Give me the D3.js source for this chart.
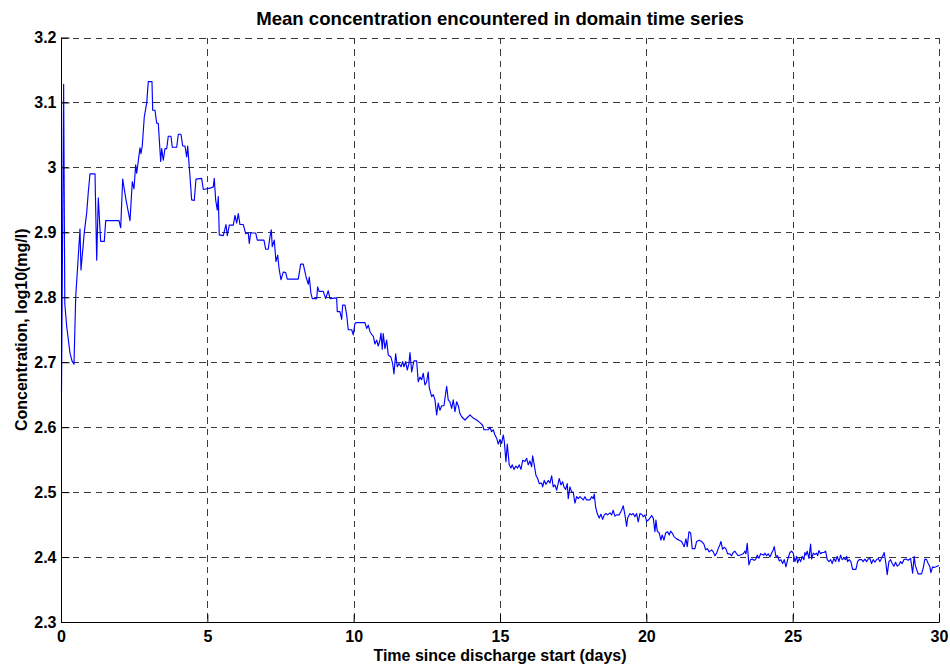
<!DOCTYPE html>
<html>
<head>
<meta charset="utf-8">
<script src="https://cdn.jsdelivr.net/npm/d3@7"></script>
<style>
  html, body { margin: 0; padding: 0; background: #fff; }
  svg { display: block; }
  text { font-family: "Liberation Sans", Arial, Helvetica, sans-serif; font-weight: bold; fill: #000; }
</style>
</head>
<body>
<svg id="chart" width="950" height="665"></svg>
<script>
// Time since discharge start (days)
const days = [
  0.017, 0.09, 0.13, 0.195, 0.307, 0.376, 0.444, 0.502, 0.649, 0.683,
  0.796, 0.878, 0.933, 0.991, 1.162, 1.220, 1.274, 1.356, 1.479, 1.527,
  1.982, 2.040, 2.108, 2.221, 2.357, 2.436, 2.494, 2.552, 2.586, 2.699,
  2.733, 2.778, 2.846, 2.928, 2.983, 3.109, 3.133, 3.212, 3.270, 3.324,
  3.406, 3.440, 3.495, 3.553, 3.611, 3.666, 3.758, 3.803, 3.953, 4.008,
  4.100, 4.158, 4.236, 4.294, 4.329, 4.407, 4.465, 4.554, 4.612, 4.807,
  4.862, 5.091, 5.203, 5.237, 5.285, 5.340, 5.374, 5.408, 5.545, 5.637,
  5.682, 5.750, 5.887, 5.945, 6.003, 6.057, 6.115, 6.228, 6.310, 6.399,
  6.433, 6.481, 6.652, 6.707, 6.935, 6.993, 7.082, 7.140, 7.185, 7.219,
  7.287, 7.345, 7.404, 7.448, 7.516, 7.595, 7.677, 7.731, 8.107, 8.189,
  8.278, 8.370, 8.449, 8.483, 8.541, 8.586, 8.736, 8.770, 8.815, 8.961,
  9.043, 9.132, 9.190, 9.419, 9.440, 9.532, 9.590, 9.624, 9.703, 9.761,
  9.815, 9.932, 9.986, 10.044, 10.102, 10.386, 10.444, 10.499, 10.557, 10.615,
  10.670, 10.728, 10.786, 10.840, 10.899, 10.933, 10.977, 11.011, 11.069, 11.127,
  11.182, 11.274, 11.332, 11.377, 11.435, 11.490, 11.548, 11.616, 11.674, 11.718,
  11.776, 11.831, 11.889, 11.924, 11.982, 12.060, 12.152, 12.207, 12.265, 12.323,
  12.378, 12.436, 12.494, 12.549, 12.583, 12.665, 12.720, 12.778, 12.836, 12.890,
  12.948, 13.006, 13.085, 13.177, 13.232, 13.290, 13.348, 13.403, 13.461, 13.519,
  13.574, 13.632, 13.690, 13.803, 13.915, 13.973, 14.086, 14.202, 14.315, 14.407,
  14.452, 14.598, 14.657, 14.715, 14.770, 14.828, 14.886, 14.940, 14.998, 15.056,
  15.111, 15.145, 15.203, 15.248, 15.316, 15.374, 15.419, 15.477, 15.545, 15.603,
  15.658, 15.716, 15.774, 15.853, 15.911, 15.965, 16.023, 16.081, 16.116, 16.170,
  16.228, 16.286, 16.341, 16.423, 16.457, 16.512, 16.570, 16.649, 16.707, 16.765,
  16.819, 16.877, 16.935, 16.990, 17.024, 17.082, 17.140, 17.185, 17.243, 17.298,
  17.332, 17.390, 17.448, 17.502, 17.561, 17.619, 17.674, 17.732, 17.844, 17.902,
  17.960, 18.073, 18.131, 18.186, 18.220, 18.268, 18.323, 18.391, 18.449, 18.507,
  18.562, 18.620, 18.678, 18.756, 18.814, 18.869, 18.927, 18.985, 19.074, 19.156,
  19.211, 19.269, 19.327, 19.361, 19.440, 19.498, 19.552, 19.610, 19.668, 19.723,
  19.781, 19.839, 19.894, 19.952, 20.010, 20.065, 20.123, 20.181, 20.236, 20.294,
  20.328, 20.373, 20.441, 20.499, 20.543, 20.601, 20.659, 20.728, 20.782, 20.830,
  20.885, 20.953, 21.035, 21.124, 21.206, 21.261, 21.295, 21.353, 21.398, 21.456,
  21.514, 21.568, 21.660, 21.719, 21.807, 21.889, 21.968, 22.026, 22.081, 22.149,
  22.231, 22.286, 22.344, 22.402, 22.456, 22.514, 22.549, 22.607, 22.661, 22.719,
  22.778, 22.856, 22.914, 22.969, 23.027, 23.085, 23.140, 23.256, 23.310, 23.368,
  23.403, 23.447, 23.505, 23.563, 23.618, 23.676, 23.734, 23.789, 23.847, 23.905,
  23.960, 24.018, 24.052, 24.110, 24.165, 24.223, 24.281, 24.335, 24.370, 24.428,
  24.486, 24.541, 24.599, 24.657, 24.712, 24.770, 24.828, 24.906, 24.964, 25.019,
  25.077, 25.135, 25.169, 25.224, 25.271, 25.326, 25.384, 25.418, 25.453, 25.497,
  25.555, 25.613, 25.648, 25.702, 25.760, 25.818, 25.853, 25.897, 25.955, 26.010,
  26.068, 26.126, 26.181, 26.239, 26.297, 26.351, 26.409, 26.467, 26.522, 26.580,
  26.638, 26.693, 26.751, 26.809, 26.843, 26.877, 26.932, 26.990, 27.048, 27.161,
  27.219, 27.273, 27.355, 27.410, 27.468, 27.526, 27.581, 27.639, 27.697, 27.751,
  27.809, 27.868, 27.922, 27.980, 28.039, 28.093, 28.127, 28.186, 28.230, 28.288,
  28.346, 28.401, 28.459, 28.517, 28.572, 28.630, 28.688, 28.742, 28.801, 28.869,
  28.947, 29.029, 29.098, 29.152, 29.187, 29.235, 29.289, 29.347, 29.405, 29.460,
  29.518, 29.576, 29.631, 29.689, 29.723, 29.781, 29.836, 29.894, 30.000
];

// Mean concentration, log10(mg/l)
const concentration = [
  2.655, 3.128, 2.790, 2.755, 2.714, 2.702, 2.697, 2.800, 2.905, 2.842,
  2.900, 2.930, 2.962, 2.990, 2.990, 2.857, 2.953, 2.886, 2.886, 2.918,
  2.918, 2.907, 2.982, 2.950, 2.918, 2.978, 2.967, 3.004, 2.991, 3.030,
  3.021, 3.034, 3.078, 3.099, 3.132, 3.132, 3.088, 3.088, 3.068, 3.068,
  3.009, 3.029, 3.011, 3.029, 3.029, 3.048, 3.048, 3.031, 3.031, 3.051,
  3.051, 3.033, 3.033, 3.016, 3.033, 2.986, 2.950, 2.949, 2.982, 2.983,
  2.966, 2.968, 2.970, 2.983, 2.950, 2.934, 2.955, 2.896, 2.895, 2.912,
  2.895, 2.911, 2.911, 2.926, 2.914, 2.929, 2.912, 2.912, 2.898, 2.899,
  2.883, 2.899, 2.899, 2.888, 2.888, 2.874, 2.874, 2.893, 2.904, 2.878,
  2.888, 2.855, 2.865, 2.845, 2.827, 2.839, 2.838, 2.828, 2.828, 2.851,
  2.851, 2.832, 2.820, 2.831, 2.806, 2.798, 2.798, 2.816, 2.809, 2.809,
  2.798, 2.810, 2.798, 2.799, 2.778, 2.778, 2.766, 2.788, 2.788, 2.773,
  2.750, 2.750, 2.742, 2.760, 2.761, 2.761, 2.752, 2.757, 2.747, 2.743,
  2.740, 2.728, 2.734, 2.725, 2.734, 2.745, 2.720, 2.744, 2.721, 2.734,
  2.711, 2.708, 2.698, 2.682, 2.713, 2.693, 2.698, 2.693, 2.701, 2.693,
  2.701, 2.688, 2.698, 2.715, 2.685, 2.702, 2.702, 2.670, 2.677, 2.673,
  2.683, 2.665, 2.670, 2.685, 2.661, 2.647, 2.650, 2.642, 2.619, 2.637,
  2.626, 2.633, 2.633, 2.663, 2.642, 2.639, 2.629, 2.642, 2.624, 2.639,
  2.633, 2.621, 2.616, 2.611, 2.616, 2.619, 2.614, 2.611, 2.607, 2.603,
  2.596, 2.596, 2.600, 2.593, 2.596, 2.588, 2.583, 2.574, 2.581, 2.575,
  2.588, 2.579, 2.547, 2.574, 2.542, 2.537, 2.542, 2.535, 2.540, 2.537,
  2.542, 2.535, 2.549, 2.547, 2.552, 2.542, 2.548, 2.539, 2.556, 2.542,
  2.526, 2.521, 2.513, 2.514, 2.508, 2.518, 2.512, 2.518, 2.514, 2.525,
  2.508, 2.511, 2.503, 2.514, 2.521, 2.511, 2.516, 2.508, 2.504, 2.513,
  2.490, 2.508, 2.500, 2.500, 2.483, 2.493, 2.490, 2.493, 2.488, 2.493,
  2.488, 2.488, 2.493, 2.490, 2.497, 2.477, 2.467, 2.460, 2.466, 2.458,
  2.465, 2.467, 2.465, 2.468, 2.465, 2.472, 2.463, 2.465, 2.465, 2.472,
  2.479, 2.465, 2.447, 2.460, 2.467, 2.465, 2.467, 2.462, 2.467, 2.454,
  2.467, 2.466, 2.462, 2.465, 2.455, 2.457, 2.460, 2.464, 2.460, 2.439,
  2.457, 2.440, 2.437, 2.426, 2.434, 2.426, 2.437, 2.439, 2.434, 2.440,
  2.437, 2.431, 2.428, 2.426, 2.424, 2.419, 2.416, 2.428, 2.416, 2.439,
  2.437, 2.413, 2.413, 2.424, 2.426, 2.424, 2.420, 2.411, 2.413, 2.408,
  2.411, 2.408, 2.402, 2.406, 2.413, 2.419, 2.424, 2.412, 2.415, 2.413,
  2.405, 2.405, 2.402, 2.407, 2.409, 2.405, 2.402, 2.404, 2.405, 2.409,
  2.405, 2.421, 2.388, 2.396, 2.397, 2.395, 2.396, 2.403, 2.398, 2.405,
  2.404, 2.403, 2.406, 2.402, 2.405, 2.400, 2.406, 2.411, 2.416, 2.401,
  2.402, 2.394, 2.396, 2.390, 2.396, 2.385, 2.396, 2.407, 2.409, 2.406,
  2.393, 2.401, 2.391, 2.398, 2.393, 2.401, 2.396, 2.407, 2.403, 2.409,
  2.398, 2.420, 2.397, 2.406, 2.404, 2.406, 2.402, 2.410, 2.405, 2.407,
  2.407, 2.409, 2.396, 2.393, 2.396, 2.390, 2.398, 2.393, 2.401, 2.393,
  2.403, 2.396, 2.398, 2.396, 2.401, 2.393, 2.396, 2.393, 2.381, 2.381,
  2.393, 2.396, 2.396, 2.393, 2.397, 2.393, 2.397, 2.398, 2.390, 2.396,
  2.392, 2.396, 2.398, 2.393, 2.398, 2.403, 2.407, 2.390, 2.373, 2.393,
  2.396, 2.390, 2.386, 2.392, 2.386, 2.388, 2.393, 2.390, 2.396, 2.397,
  2.395, 2.398, 2.375, 2.401, 2.388, 2.381, 2.374, 2.374, 2.374, 2.383,
  2.397, 2.396, 2.390, 2.385, 2.376, 2.385, 2.384, 2.385, 2.387
];

const xTicks = [0, 5, 10, 15, 20, 25, 30];
const yTicks = [2.3, 2.4, 2.5, 2.6, 2.7, 2.8, 2.9, 3.0, 3.1, 3.2];

const titleText = "Mean concentration encountered in domain time series";
const xLabelText = "Time since discharge start (days)";
const yLabelText = "Concentration, log10(mg/l)";

const svg = d3.select("#chart");
const margin = { left: 61, right: 11, top: 37.5, bottom: 43 };
const W = 950, H = 665;
const plotW = W - margin.left - margin.right;
const plotH = H - margin.top - margin.bottom;

const x = d3.scaleLinear().domain([0, 30]).range([margin.left, margin.left + plotW]);
const y = d3.scaleLinear().domain([2.3, 3.2]).range([margin.top + plotH, margin.top]);

const tickFont = "16px";

// dashed grid
const grid = svg.append("g").attr("class", "grid")
  .attr("stroke", "#3a3a3a").attr("stroke-width", 1)
  .attr("stroke-dasharray", "6.5,5").attr("shape-rendering", "crispEdges");

grid.selectAll("line.gx").data(xTicks).join("line")
  .attr("class", "gx")
  .attr("x1", d => Math.round(x(d)) + 0.5).attr("x2", d => Math.round(x(d)) + 0.5)
  .attr("y1", y(3.2)).attr("y2", y(2.3));

grid.selectAll("line.gy").data(yTicks).join("line")
  .attr("class", "gy")
  .attr("y1", d => Math.round(y(d)) + 0.5).attr("y2", d => Math.round(y(d)) + 0.5)
  .attr("x1", x(0)).attr("x2", x(30));

// series
const series = days.map((d, i) => [d, concentration[i]]);
svg.append("path")
  .datum(series)
  .attr("fill", "none")
  .attr("stroke", "#0000ff")
  .attr("stroke-width", 1.15)
  .attr("stroke-linejoin", "round")
  .attr("d", d3.line().x(d => x(d[0])).y(d => y(d[1])));

// axes with inward ticks
const xAxis = d3.axisBottom(x).tickValues(xTicks).tickSize(-8).tickPadding(8)
  .tickFormat(d3.format("d"));
const gx = svg.append("g")
  .attr("transform", `translate(0,${Math.round(y(2.3)) + 0.5})`)
  .call(xAxis);

const yAxis = d3.axisLeft(y).tickValues(yTicks).tickSize(-8).tickPadding(5)
  .tickFormat(d => d3.format("")(+d.toFixed(1)));
const gy = svg.append("g")
  .attr("transform", `translate(${Math.round(x(0)) + 0.5},0)`)
  .call(yAxis);

[gx, gy].forEach(g => {
  g.select(".domain").attr("stroke", "#000").attr("stroke-width", 1);
  g.selectAll(".tick line").attr("stroke", "#000");
  g.selectAll(".tick text")
    .style("font-family", "'Liberation Sans', Arial, sans-serif")
    .style("font-weight", "bold")
    .style("font-size", tickFont)
    .attr("fill", "#000");
});
gx.select(".domain").attr("d", `M${x(0)},0H${x(30)}`);
gy.select(".domain").attr("d", `M0,${y(2.3)}V${y(3.2)}`);

// title and axis labels
svg.append("text")
  .attr("x", (x(0) + x(30)) / 2).attr("y", 25)
  .attr("text-anchor", "middle")
  .style("font-size", "18.6px")
  .text(titleText);

svg.append("text")
  .attr("x", (x(0) + x(30)) / 2).attr("y", 661)
  .attr("text-anchor", "middle")
  .style("font-size", "16px")
  .text(xLabelText);

svg.append("text")
  .attr("transform", `translate(27,${(y(2.3) + y(3.2)) / 2}) rotate(-90)`)
  .attr("text-anchor", "middle")
  .style("font-size", "16px")
  .text(yLabelText);
</script>
</body>
</html>
